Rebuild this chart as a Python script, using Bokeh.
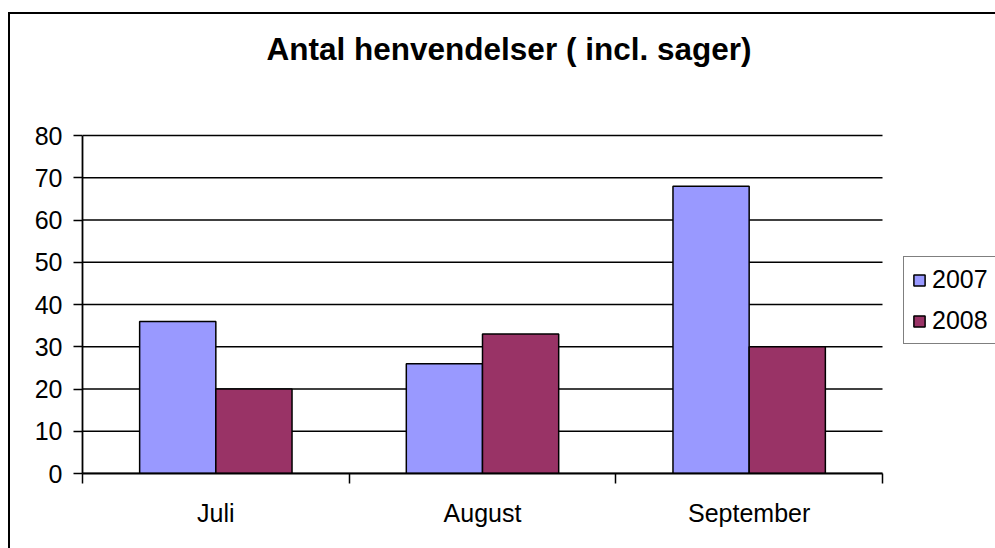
from bokeh.plotting import figure
from bokeh.models import (Range1d, FixedTicker, Legend, LegendItem, Label,
                          ColumnDataSource)
from bokeh.transform import dodge
from bokeh.embed import file_html
from bokeh.resources import INLINE

title_text = "Antal henvendelser ( incl. sager)"
months = ["Juli", "August", "September"]
series_names = ["2007", "2008"]
values_2007 = [36, 26, 68]
values_2008 = [20, 33, 30]
y_ticks = [0, 10, 20, 30, 40, 50, 60, 70, 80]

FONT = "Liberation Sans"
C2007 = "#9999FF"
C2008 = "#993366"

W, H = 995, 548
PLOT_LEFT, PLOT_RIGHT = 82, 882     # pixel extent of the category area
PLOT_TOP, PLOT_BOTTOM = 135, 473    # pixel extent of the value axis (0..80)
n = len(months)
y_max = max(y_ticks)

pos = [i + 0.5 for i in range(n)]
src = ColumnDataSource(dict(x=pos, v2007=values_2007, v2008=values_2008))
grid_src = ColumnDataSource(dict(y=y_ticks, x0=[0] * len(y_ticks),
                                 x1=[n] * len(y_ticks)))

x_end = n * (W - PLOT_LEFT) / (PLOT_RIGHT - PLOT_LEFT)
y_end = y_max * PLOT_BOTTOM / (PLOT_BOTTOM - PLOT_TOP)
p = figure(width=W, height=H, output_backend="svg", toolbar_location=None,
           x_range=Range1d(0, x_end), y_range=Range1d(0, y_end),
           min_border_left=PLOT_LEFT, min_border_right=0, min_border_top=0,
           min_border_bottom=H - PLOT_BOTTOM, title=None)
p.outline_line_color = None
p.background_fill_color = None
p.border_fill_color = None
# outer chart border: only its left and top edges fall inside the window
p.styles = {
    "background": ("linear-gradient(#000, #000) 8px 12px / 2px 100% no-repeat, "
                   "linear-gradient(#000, #000) 8px 12px / 100% 2px no-repeat, #fff"),
}

# horizontal gridlines limited to the category area
p.segment(x0="x0", x1="x1", y0="y", y1="y", source=grid_src,
          line_color="black", line_width=1.5)

bw = 1.0 / 3.5
r1 = p.vbar(x=dodge("x", -bw / 2, range=p.x_range), top="v2007", width=bw,
            bottom=0, source=src, fill_color=C2007, line_color="black", line_width=1.5)
r2 = p.vbar(x=dodge("x", bw / 2, range=p.x_range), top="v2008", width=bw,
            bottom=0, source=src, fill_color=C2008, line_color="black", line_width=1.5)

# axes
xa = p.xaxis[0]
xa.bounds = (0, n)
xa.ticker = FixedTicker(ticks=pos, minor_ticks=list(range(n + 1)))
xa.major_label_overrides = {p_: m for p_, m in zip(pos, months)}
xa.major_tick_in = 0
xa.major_tick_out = 0
xa.minor_tick_in = 0
xa.minor_tick_out = 10
xa.minor_tick_line_color = "black"
xa.minor_tick_line_width = 1.5
xa.axis_line_color = "black"
xa.axis_line_width = 1.8
xa.major_label_text_font = FONT
xa.major_label_text_font_size = "25px"
xa.major_label_text_color = "black"
xa.major_label_standoff = 15

ya = p.yaxis[0]
ya.bounds = (0, y_max)
ya.ticker = FixedTicker(ticks=y_ticks)
ya.minor_tick_line_color = None
ya.major_tick_in = 0
ya.major_tick_out = 9
ya.major_tick_line_color = "black"
ya.major_tick_line_width = 1.5
ya.axis_line_color = "black"
ya.axis_line_width = 1.8
ya.major_label_text_font = FONT
ya.major_label_text_font_size = "25px"
ya.major_label_text_color = "black"
ya.major_label_standoff = 11

p.xgrid.grid_line_color = None
p.ygrid.grid_line_color = None

# legend
legend = Legend(items=[LegendItem(label=series_names[0], renderers=[r1]),
                       LegendItem(label=series_names[1], renderers=[r2])],
                location=(821, 129), orientation="vertical")
legend.border_line_color = "black"
legend.border_line_width = 1.5
legend.background_fill_color = "white"
legend.background_fill_alpha = 1.0
legend.label_text_font = FONT
legend.label_text_font_size = "25px"
legend.label_text_color = "black"
legend.glyph_width = 14
legend.glyph_height = 14
legend.label_standoff = 6
legend.padding = 8
legend.spacing = 12
legend.label_height = 28
legend.margin = 0
p.add_layout(legend)

# title (screen units, measured from the frame's bottom-left corner)
title_cx, title_y = 508.5, 48.7
t = Label(x=title_cx - PLOT_LEFT, y=PLOT_BOTTOM - title_y,
          x_units="screen", y_units="screen", text=title_text,
          text_font=FONT, text_font_size="31.5px", text_font_style="bold",
          text_align="center", text_baseline="alphabetic", text_color="black")
p.add_layout(t)

open("out.html", "w").write(file_html(p, INLINE))
